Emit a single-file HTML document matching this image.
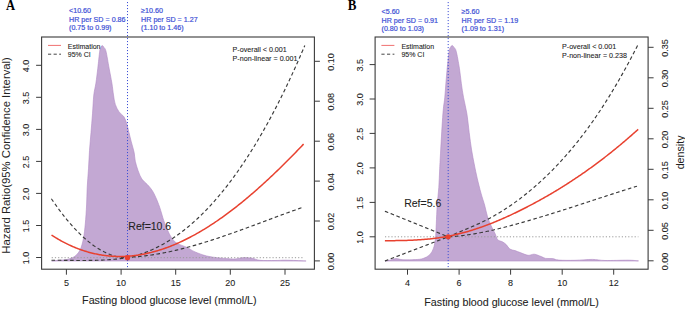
<!DOCTYPE html>
<html><head><meta charset="utf-8"><style>
html,body{margin:0;padding:0;background:#fff;width:685px;height:309px;overflow:hidden;position:relative}
</style></head><body>
<svg width="685" height="309" viewBox="0 0 685 309" style="position:absolute;left:0;top:0">
<g font-family='"Liberation Sans", sans-serif'>
<path d="M51.70,261.00 C52.67,260.90 54.97,260.65 57.50,260.40 C60.03,260.15 64.08,260.13 66.90,259.50 C69.72,258.87 72.22,258.17 74.40,256.60 C76.58,255.03 78.50,253.07 80.00,250.10 C81.50,247.13 82.52,243.18 83.40,238.80 C84.28,234.42 84.77,229.43 85.30,223.80 C85.83,218.17 86.28,211.03 86.60,205.00 C86.92,198.97 86.88,193.63 87.20,187.60 C87.52,181.57 88.12,174.98 88.50,168.80 C88.88,162.62 89.08,156.53 89.50,150.50 C89.92,144.47 90.50,138.72 91.00,132.60 C91.50,126.48 92.03,120.07 92.50,113.80 C92.97,107.53 93.23,100.10 93.80,95.00 C94.37,89.90 95.23,87.67 95.90,83.20 C96.57,78.73 97.17,73.52 97.80,68.20 C98.43,62.88 99.22,54.77 99.70,51.30 C100.18,47.83 100.27,48.35 100.70,47.40 C101.13,46.45 101.77,45.60 102.30,45.60 C102.83,45.60 103.28,46.45 103.90,47.40 C104.52,48.35 105.13,47.83 106.00,51.30 C106.87,54.77 108.12,62.88 109.10,68.20 C110.08,73.52 111.17,78.73 111.90,83.20 C112.63,87.67 112.93,91.47 113.50,95.00 C114.07,98.53 114.37,101.58 115.30,104.40 C116.23,107.22 117.68,109.87 119.10,111.90 C120.52,113.93 122.55,114.72 123.80,116.60 C125.05,118.48 125.73,120.53 126.60,123.20 C127.47,125.87 128.22,129.48 129.00,132.60 C129.78,135.72 130.45,138.62 131.30,141.90 C132.15,145.18 133.43,149.07 134.10,152.30 C134.77,155.53 134.63,158.23 135.30,161.30 C135.97,164.37 137.00,167.73 138.10,170.70 C139.20,173.67 140.33,176.77 141.90,179.10 C143.47,181.43 145.78,182.82 147.50,184.70 C149.22,186.58 150.78,188.20 152.20,190.40 C153.62,192.60 154.75,195.08 156.00,197.90 C157.25,200.72 158.40,203.50 159.70,207.30 C161.00,211.10 162.50,216.92 163.80,220.70 C165.10,224.48 166.22,227.17 167.50,230.00 C168.78,232.83 169.93,235.50 171.50,237.70 C173.07,239.90 174.33,241.58 176.90,243.20 C179.47,244.82 183.88,245.95 186.90,247.40 C189.92,248.85 191.70,250.47 195.00,251.90 C198.30,253.33 202.95,255.03 206.70,256.00 C210.45,256.97 214.23,257.27 217.50,257.70 C220.77,258.13 223.38,258.38 226.30,258.60 C229.22,258.82 232.08,259.17 235.00,259.00 C237.92,258.83 240.88,257.72 243.80,257.60 C246.72,257.48 249.80,257.85 252.50,258.30 C255.20,258.75 256.25,259.93 260.00,260.30 C263.75,260.67 270.67,260.52 275.00,260.50 C279.33,260.48 281.05,260.13 286.00,260.20 C290.95,260.27 301.58,260.77 304.70,260.90 C307.82,261.03 304.70,260.98 304.70,261.00 Z" fill="#C3A8D3" stroke="#B08AC4" stroke-width="0.6"/>
<line x1="51.7" y1="257.7" x2="304.5" y2="257.7" stroke="#9a9a9a" stroke-width="1" stroke-dasharray="1.2,2"/>
<line x1="127.5" y1="2" x2="127.5" y2="269.2" stroke="#3D4FD6" stroke-width="1" stroke-dasharray="1.1,1.9"/>
<path d="M51.40,198.72 L52.40,200.20 L53.40,201.65 L54.40,203.10 L55.41,204.52 L56.41,205.93 L57.41,207.32 L58.41,208.69 L59.41,210.05 L60.41,211.39 L61.41,212.71 L62.41,214.01 L63.42,215.30 L64.42,216.57 L65.42,217.82 L66.42,219.06 L67.42,220.27 L68.42,221.47 L69.42,222.65 L70.42,223.82 L71.43,224.96 L72.43,226.09 L73.43,227.20 L74.43,228.29 L75.43,229.36 L76.43,230.41 L77.43,231.45 L78.44,232.46 L79.44,233.46 L80.44,234.44 L81.44,235.40 L82.44,236.34 L83.44,237.26 L84.44,238.17 L85.44,239.05 L86.45,239.91 L87.45,240.76 L88.45,241.59 L89.45,242.39 L90.45,243.18 L91.45,243.94 L92.45,244.69 L93.46,245.42 L94.46,246.13 L95.46,246.81 L96.46,247.48 L97.46,248.13 L98.46,248.75 L99.46,249.36 L100.46,249.95 L101.47,250.51 L102.47,251.06 L103.47,251.58 L104.47,252.09 L105.47,252.57 L106.47,253.03 L107.47,253.47 L108.47,253.89 L109.48,254.29 L110.48,254.67 L111.48,255.03 L112.48,255.36 L113.48,255.68 L114.48,255.97 L115.48,256.24 L116.49,256.49 L117.49,256.72 L118.49,256.92 L119.49,257.10 L120.49,257.27 L121.49,257.41 L122.49,257.52 L123.49,257.62 L124.50,257.69 L125.50,257.74 L126.50,257.77 L127.50,257.77 L128.50,257.36 L129.50,257.15 L130.51,256.92 L131.51,256.69 L132.51,256.45 L133.51,256.19 L134.51,255.93 L135.51,255.66 L136.52,255.37 L137.52,255.08 L138.52,254.78 L139.52,254.46 L140.52,254.14 L141.52,253.81 L142.53,253.47 L143.53,253.11 L144.53,252.75 L145.53,252.38 L146.53,251.99 L147.53,251.60 L148.54,251.20 L149.54,250.79 L150.54,250.36 L151.54,249.93 L152.54,249.48 L153.54,249.03 L154.55,248.56 L155.55,248.09 L156.55,247.60 L157.55,247.11 L158.55,246.60 L159.55,246.09 L160.56,245.56 L161.56,245.02 L162.56,244.47 L163.56,243.91 L164.56,243.34 L165.56,242.76 L166.57,242.17 L167.57,241.57 L168.57,240.96 L169.57,240.34 L170.57,239.71 L171.57,239.06 L172.58,238.41 L173.58,237.74 L174.58,237.06 L175.58,236.38 L176.58,235.68 L177.58,234.97 L178.59,234.25 L179.59,233.52 L180.59,232.78 L181.59,232.02 L182.59,231.26 L183.59,230.49 L184.60,229.70 L185.60,228.90 L186.60,228.09 L187.60,227.27 L188.60,226.44 L189.61,225.60 L190.61,224.75 L191.61,223.88 L192.61,223.01 L193.61,222.12 L194.61,221.22 L195.62,220.31 L196.62,219.39 L197.62,218.46 L198.62,217.51 L199.62,216.56 L200.62,215.59 L201.63,214.61 L202.63,213.62 L203.63,212.62 L204.63,211.61 L205.63,210.58 L206.63,209.55 L207.64,208.50 L208.64,207.44 L209.64,206.37 L210.64,205.28 L211.64,204.19 L212.64,203.08 L213.65,201.96 L214.65,200.83 L215.65,199.69 L216.65,198.53 L217.65,197.36 L218.65,196.19 L219.66,195.00 L220.66,193.79 L221.66,192.58 L222.66,191.35 L223.66,190.11 L224.66,188.86 L225.67,187.60 L226.67,186.32 L227.67,185.03 L228.67,183.73 L229.67,182.42 L230.67,181.09 L231.68,179.76 L232.68,178.41 L233.68,177.04 L234.68,175.67 L235.68,174.28 L236.68,172.88 L237.69,171.46 L238.69,170.04 L239.69,168.60 L240.69,167.15 L241.69,165.68 L242.69,164.20 L243.70,162.71 L244.70,161.21 L245.70,159.69 L246.70,158.16 L247.70,156.62 L248.71,155.06 L249.71,153.49 L250.71,151.91 L251.71,150.31 L252.71,148.70 L253.71,147.08 L254.72,145.44 L255.72,143.79 L256.72,142.12 L257.72,140.45 L258.72,138.76 L259.72,137.05 L260.73,135.33 L261.73,133.60 L262.73,131.85 L263.73,130.10 L264.73,128.32 L265.73,126.53 L266.74,124.73 L267.74,122.92 L268.74,121.09 L269.74,119.24 L270.74,117.39 L271.74,115.51 L272.75,113.63 L273.75,111.73 L274.75,109.81 L275.75,107.89 L276.75,105.94 L277.75,103.99 L278.76,102.01 L279.76,100.03 L280.76,98.03 L281.76,96.01 L282.76,93.98 L283.76,91.94 L284.77,89.88 L285.77,87.80 L286.77,85.71 L287.77,83.61 L288.77,81.49 L289.77,79.36 L290.78,77.21 L291.78,75.05 L292.78,72.87 L293.78,70.67 L294.78,68.47 L295.78,66.24 L296.79,64.00 L297.79,61.75 L298.79,59.48 L299.79,57.20 L300.79,54.90 L301.79,52.58 L302.80,50.25 L303.80,47.90 L304.80,45.54" fill="none" stroke="#3a3a3a" stroke-width="1.15" stroke-dasharray="3.6,2.6"/>
<path d="M51.50,260.21 L52.50,260.22 L53.50,260.23 L54.50,260.23 L55.50,260.24 L56.50,260.25 L57.50,260.26 L58.50,260.27 L59.50,260.28 L60.50,260.29 L61.50,260.31 L62.50,260.32 L63.50,260.33 L64.50,260.34 L65.50,260.35 L66.50,260.37 L67.50,260.38 L68.50,260.39 L69.50,260.40 L70.50,260.41 L71.50,260.42 L72.50,260.43 L73.50,260.44 L74.50,260.45 L75.50,260.46 L76.50,260.46 L77.50,260.47 L78.50,260.47 L79.50,260.48 L80.50,260.48 L81.50,260.48 L82.50,260.48 L83.50,260.48 L84.50,260.47 L85.50,260.47 L86.50,260.46 L87.50,260.45 L88.50,260.44 L89.50,260.43 L90.50,260.42 L91.50,260.40 L92.50,260.38 L93.50,260.36 L94.50,260.34 L95.50,260.31 L96.50,260.28 L97.50,260.25 L98.50,260.22 L99.50,260.18 L100.50,260.14 L101.50,260.10 L102.50,260.06 L103.50,260.01 L104.50,259.96 L105.50,259.90 L106.50,259.85 L107.50,259.79 L108.50,259.72 L109.50,259.65 L110.50,259.58 L111.50,259.50 L112.50,259.43 L113.50,259.34 L114.50,259.26 L115.50,259.16 L116.50,259.07 L117.50,258.97 L118.50,258.86 L119.50,258.76 L120.50,258.64 L121.50,258.53 L122.50,258.40 L123.50,258.28 L124.50,258.15 L125.50,258.01 L126.50,257.87 L127.50,257.72 L128.50,257.31 L129.50,257.26 L130.50,257.20 L131.50,257.14 L132.51,257.08 L133.51,257.01 L134.51,256.93 L135.51,256.85 L136.51,256.77 L137.51,256.68 L138.51,256.59 L139.51,256.49 L140.51,256.39 L141.52,256.28 L142.52,256.17 L143.52,256.06 L144.52,255.94 L145.52,255.81 L146.52,255.69 L147.52,255.55 L148.52,255.42 L149.53,255.28 L150.53,255.14 L151.53,254.99 L152.53,254.84 L153.53,254.68 L154.53,254.52 L155.53,254.36 L156.53,254.19 L157.53,254.02 L158.54,253.85 L159.54,253.67 L160.54,253.49 L161.54,253.30 L162.54,253.11 L163.54,252.92 L164.54,252.72 L165.54,252.52 L166.54,252.32 L167.55,252.11 L168.55,251.90 L169.55,251.69 L170.55,251.47 L171.55,251.25 L172.55,251.03 L173.55,250.80 L174.55,250.57 L175.55,250.34 L176.56,250.10 L177.56,249.87 L178.56,249.62 L179.56,249.38 L180.56,249.13 L181.56,248.88 L182.56,248.63 L183.56,248.37 L184.57,248.11 L185.57,247.85 L186.57,247.58 L187.57,247.31 L188.57,247.04 L189.57,246.77 L190.57,246.50 L191.57,246.22 L192.57,245.94 L193.58,245.65 L194.58,245.37 L195.58,245.08 L196.58,244.79 L197.58,244.49 L198.58,244.20 L199.58,243.90 L200.58,243.60 L201.58,243.30 L202.59,242.99 L203.59,242.69 L204.59,242.38 L205.59,242.07 L206.59,241.75 L207.59,241.44 L208.59,241.12 L209.59,240.80 L210.59,240.48 L211.60,240.16 L212.60,239.83 L213.60,239.51 L214.60,239.18 L215.60,238.85 L216.60,238.52 L217.60,238.18 L218.60,237.85 L219.61,237.51 L220.61,237.17 L221.61,236.83 L222.61,236.49 L223.61,236.15 L224.61,235.80 L225.61,235.46 L226.61,235.11 L227.61,234.76 L228.62,234.41 L229.62,234.06 L230.62,233.71 L231.62,233.35 L232.62,233.00 L233.62,232.64 L234.62,232.29 L235.62,231.93 L236.62,231.57 L237.63,231.21 L238.63,230.85 L239.63,230.49 L240.63,230.12 L241.63,229.76 L242.63,229.40 L243.63,229.03 L244.63,228.66 L245.63,228.30 L246.64,227.93 L247.64,227.56 L248.64,227.19 L249.64,226.82 L250.64,226.46 L251.64,226.08 L252.64,225.71 L253.64,225.34 L254.65,224.97 L255.65,224.60 L256.65,224.23 L257.65,223.85 L258.65,223.48 L259.65,223.11 L260.65,222.74 L261.65,222.36 L262.65,221.99 L263.66,221.61 L264.66,221.24 L265.66,220.87 L266.66,220.49 L267.66,220.12 L268.66,219.75 L269.66,219.37 L270.66,219.00 L271.66,218.63 L272.67,218.25 L273.67,217.88 L274.67,217.51 L275.67,217.14 L276.67,216.77 L277.67,216.39 L278.67,216.02 L279.67,215.65 L280.67,215.28 L281.68,214.91 L282.68,214.55 L283.68,214.18 L284.68,213.81 L285.68,213.44 L286.68,213.08 L287.68,212.71 L288.68,212.35 L289.69,211.98 L290.69,211.62 L291.69,211.26 L292.69,210.90 L293.69,210.54 L294.69,210.18 L295.69,209.82 L296.69,209.46 L297.69,209.11 L298.70,208.75 L299.70,208.40 L300.70,208.05 L301.70,207.70 L302.70,207.35" fill="none" stroke="#3a3a3a" stroke-width="1.15" stroke-dasharray="3.6,2.6"/>
<path d="M51.50,235.06 L52.50,235.70 L53.50,236.34 L54.50,236.96 L55.50,237.57 L56.50,238.18 L57.50,238.77 L58.50,239.35 L59.50,239.92 L60.50,240.49 L61.50,241.04 L62.50,241.58 L63.50,242.11 L64.51,242.63 L65.51,243.14 L66.51,243.64 L67.51,244.13 L68.51,244.61 L69.51,245.08 L70.51,245.55 L71.51,246.00 L72.51,246.44 L73.51,246.87 L74.51,247.29 L75.51,247.70 L76.51,248.10 L77.51,248.49 L78.51,248.87 L79.51,249.24 L80.51,249.61 L81.51,249.96 L82.51,250.30 L83.51,250.63 L84.51,250.96 L85.51,251.27 L86.51,251.58 L87.51,251.87 L88.51,252.16 L89.52,252.43 L90.52,252.70 L91.52,252.96 L92.52,253.20 L93.52,253.44 L94.52,253.67 L95.52,253.89 L96.52,254.10 L97.52,254.30 L98.52,254.50 L99.52,254.68 L100.52,254.85 L101.52,255.02 L102.52,255.17 L103.52,255.32 L104.52,255.46 L105.52,255.59 L106.52,255.71 L107.52,255.82 L108.52,255.92 L109.52,256.01 L110.52,256.10 L111.52,256.18 L112.52,256.24 L113.52,256.30 L114.53,256.35 L115.53,256.39 L116.53,256.42 L117.53,256.45 L118.53,256.46 L119.53,256.47 L120.53,256.47 L121.53,256.46 L122.53,256.44 L123.53,256.41 L124.53,256.38 L125.53,256.33 L126.53,256.28 L127.53,256.22 L128.53,256.15 L129.53,256.07 L130.53,255.99 L131.53,255.90 L132.53,255.79 L133.53,255.68 L134.53,255.57 L135.53,255.44 L136.53,255.31 L137.53,255.17 L138.53,255.02 L139.53,254.86 L140.54,254.69 L141.54,254.52 L142.54,254.34 L143.54,254.15 L144.54,253.95 L145.54,253.75 L146.54,253.53 L147.54,253.31 L148.54,253.09 L149.54,252.85 L150.54,252.61 L151.54,252.36 L152.54,252.10 L153.54,251.83 L154.54,251.56 L155.54,251.28 L156.54,250.99 L157.54,250.70 L158.54,250.39 L159.54,250.08 L160.54,249.76 L161.54,249.44 L162.54,249.11 L163.54,248.77 L164.54,248.42 L165.55,248.07 L166.55,247.71 L167.55,247.34 L168.55,246.97 L169.55,246.58 L170.55,246.19 L171.55,245.80 L172.55,245.40 L173.55,244.99 L174.55,244.57 L175.55,244.15 L176.55,243.72 L177.55,243.28 L178.55,242.83 L179.55,242.38 L180.55,241.93 L181.55,241.46 L182.55,240.99 L183.55,240.51 L184.55,240.03 L185.55,239.54 L186.55,239.04 L187.55,238.54 L188.55,238.03 L189.55,237.51 L190.56,236.99 L191.56,236.46 L192.56,235.93 L193.56,235.38 L194.56,234.84 L195.56,234.28 L196.56,233.72 L197.56,233.15 L198.56,232.58 L199.56,232.00 L200.56,231.42 L201.56,230.83 L202.56,230.23 L203.56,229.63 L204.56,229.02 L205.56,228.40 L206.56,227.78 L207.56,227.15 L208.56,226.52 L209.56,225.88 L210.56,225.24 L211.56,224.59 L212.56,223.93 L213.56,223.27 L214.56,222.60 L215.57,221.93 L216.57,221.25 L217.57,220.56 L218.57,219.87 L219.57,219.18 L220.57,218.48 L221.57,217.77 L222.57,217.06 L223.57,216.34 L224.57,215.62 L225.57,214.89 L226.57,214.16 L227.57,213.42 L228.57,212.68 L229.57,211.93 L230.57,211.17 L231.57,210.41 L232.57,209.65 L233.57,208.88 L234.57,208.10 L235.57,207.32 L236.57,206.54 L237.57,205.75 L238.57,204.95 L239.57,204.15 L240.57,203.35 L241.58,202.54 L242.58,201.72 L243.58,200.90 L244.58,200.08 L245.58,199.25 L246.58,198.42 L247.58,197.58 L248.58,196.74 L249.58,195.89 L250.58,195.04 L251.58,194.18 L252.58,193.32 L253.58,192.45 L254.58,191.58 L255.58,190.71 L256.58,189.83 L257.58,188.95 L258.58,188.06 L259.58,187.16 L260.58,186.27 L261.58,185.37 L262.58,184.46 L263.58,183.55 L264.58,182.64 L265.58,181.72 L266.59,180.80 L267.59,179.87 L268.59,178.94 L269.59,178.01 L270.59,177.07 L271.59,176.13 L272.59,175.18 L273.59,174.23 L274.59,173.28 L275.59,172.32 L276.59,171.36 L277.59,170.40 L278.59,169.43 L279.59,168.45 L280.59,167.48 L281.59,166.50 L282.59,165.51 L283.59,164.53 L284.59,163.54 L285.59,162.54 L286.59,161.54 L287.59,160.54 L288.59,159.54 L289.59,158.53 L290.59,157.52 L291.60,156.50 L292.60,155.48 L293.60,154.46 L294.60,153.44 L295.60,152.41 L296.60,151.38 L297.60,150.34 L298.60,149.30 L299.60,148.26 L300.60,147.22 L301.60,146.17 L302.60,145.12 L303.60,144.07" fill="none" stroke="#E8412F" stroke-width="1.5"/>
<circle cx="127.5" cy="257.7" r="2.6" fill="#E8412F"/>
<rect x="41.6" y="37" width="272.79999999999995" height="232.2" fill="none" stroke="#3a3a3a" stroke-width="1.1"/>
<line x1="66.4" y1="269.2" x2="66.4" y2="274.7" stroke="#3a3a3a" stroke-width="1"/>
<text x="66.4" y="285.7" font-size="9" text-anchor="middle" fill="#222222" stroke="#222222" stroke-width="0.08">5</text>
<line x1="121.1" y1="269.2" x2="121.1" y2="274.7" stroke="#3a3a3a" stroke-width="1"/>
<text x="121.1" y="285.7" font-size="9" text-anchor="middle" fill="#222222" stroke="#222222" stroke-width="0.08">10</text>
<line x1="175.7" y1="269.2" x2="175.7" y2="274.7" stroke="#3a3a3a" stroke-width="1"/>
<text x="175.7" y="285.7" font-size="9" text-anchor="middle" fill="#222222" stroke="#222222" stroke-width="0.08">15</text>
<line x1="230.3" y1="269.2" x2="230.3" y2="274.7" stroke="#3a3a3a" stroke-width="1"/>
<text x="230.3" y="285.7" font-size="9" text-anchor="middle" fill="#222222" stroke="#222222" stroke-width="0.08">20</text>
<line x1="285" y1="269.2" x2="285" y2="274.7" stroke="#3a3a3a" stroke-width="1"/>
<text x="285" y="285.7" font-size="9" text-anchor="middle" fill="#222222" stroke="#222222" stroke-width="0.08">25</text>
<line x1="36.1" y1="257.5" x2="41.6" y2="257.5" stroke="#3a3a3a" stroke-width="1"/>
<text x="0" y="0" transform="translate(28.9,258.1) rotate(-90)" font-size="9" text-anchor="middle" fill="#222222" stroke="#222222" stroke-width="0.08">1.0</text>
<line x1="36.1" y1="225.5" x2="41.6" y2="225.5" stroke="#3a3a3a" stroke-width="1"/>
<text x="0" y="0" transform="translate(28.9,226.1) rotate(-90)" font-size="9" text-anchor="middle" fill="#222222" stroke="#222222" stroke-width="0.08">1.5</text>
<line x1="36.1" y1="193.4" x2="41.6" y2="193.4" stroke="#3a3a3a" stroke-width="1"/>
<text x="0" y="0" transform="translate(28.9,194.0) rotate(-90)" font-size="9" text-anchor="middle" fill="#222222" stroke="#222222" stroke-width="0.08">2.0</text>
<line x1="36.1" y1="161.4" x2="41.6" y2="161.4" stroke="#3a3a3a" stroke-width="1"/>
<text x="0" y="0" transform="translate(28.9,162.0) rotate(-90)" font-size="9" text-anchor="middle" fill="#222222" stroke="#222222" stroke-width="0.08">2.5</text>
<line x1="36.1" y1="129.4" x2="41.6" y2="129.4" stroke="#3a3a3a" stroke-width="1"/>
<text x="0" y="0" transform="translate(28.9,130.0) rotate(-90)" font-size="9" text-anchor="middle" fill="#222222" stroke="#222222" stroke-width="0.08">3.0</text>
<line x1="36.1" y1="97.3" x2="41.6" y2="97.3" stroke="#3a3a3a" stroke-width="1"/>
<text x="0" y="0" transform="translate(28.9,97.89999999999999) rotate(-90)" font-size="9" text-anchor="middle" fill="#222222" stroke="#222222" stroke-width="0.08">3.5</text>
<line x1="36.1" y1="65.3" x2="41.6" y2="65.3" stroke="#3a3a3a" stroke-width="1"/>
<text x="0" y="0" transform="translate(28.9,65.89999999999999) rotate(-90)" font-size="9" text-anchor="middle" fill="#222222" stroke="#222222" stroke-width="0.08">4.0</text>
<line x1="314.4" y1="260.9" x2="319.9" y2="260.9" stroke="#3a3a3a" stroke-width="1"/>
<text x="0" y="0" transform="translate(334.4,261.5) rotate(-90)" font-size="9" text-anchor="middle" fill="#222222" stroke="#222222" stroke-width="0.08">0.00</text>
<line x1="314.4" y1="221.0" x2="319.9" y2="221.0" stroke="#3a3a3a" stroke-width="1"/>
<text x="0" y="0" transform="translate(334.4,221.6) rotate(-90)" font-size="9" text-anchor="middle" fill="#222222" stroke="#222222" stroke-width="0.08">0.02</text>
<line x1="314.4" y1="181.1" x2="319.9" y2="181.1" stroke="#3a3a3a" stroke-width="1"/>
<text x="0" y="0" transform="translate(334.4,181.7) rotate(-90)" font-size="9" text-anchor="middle" fill="#222222" stroke="#222222" stroke-width="0.08">0.04</text>
<line x1="314.4" y1="141.2" x2="319.9" y2="141.2" stroke="#3a3a3a" stroke-width="1"/>
<text x="0" y="0" transform="translate(334.4,141.79999999999998) rotate(-90)" font-size="9" text-anchor="middle" fill="#222222" stroke="#222222" stroke-width="0.08">0.06</text>
<line x1="314.4" y1="101.2" x2="319.9" y2="101.2" stroke="#3a3a3a" stroke-width="1"/>
<text x="0" y="0" transform="translate(334.4,101.8) rotate(-90)" font-size="9" text-anchor="middle" fill="#222222" stroke="#222222" stroke-width="0.08">0.08</text>
<line x1="314.4" y1="61.3" x2="319.9" y2="61.3" stroke="#3a3a3a" stroke-width="1"/>
<text x="0" y="0" transform="translate(334.4,61.9) rotate(-90)" font-size="9" text-anchor="middle" fill="#222222" stroke="#222222" stroke-width="0.08">0.10</text>
<line x1="48" y1="45.4" x2="61" y2="45.4" stroke="#F07070" stroke-width="1"/>
<line x1="48" y1="54.2" x2="61" y2="54.2" stroke="#444" stroke-width="1" stroke-dasharray="3.2,2.4"/>
<text x="67.8" y="48.9" font-size="7" fill="#222222" stroke="#222222" stroke-width="0.08">Estimation</text>
<text x="67.8" y="56.9" font-size="7" fill="#222222" stroke="#222222" stroke-width="0.08">95% CI</text>
<text x="232.6" y="52.2" font-size="7.15" fill="#222222" stroke="#222222" stroke-width="0.08">P-overall &lt; 0.001</text>
<text x="232.6" y="60.7" font-size="7.15" fill="#222222" stroke="#222222" stroke-width="0.08">P-non-linear = 0.001</text>
<text x="69" y="13.0" font-size="7.15" fill="#3D4FD6" stroke="#3D4FD6" stroke-width="0.2">&lt;10.60</text>
<text x="69" y="21.6" font-size="7.15" fill="#3D4FD6" stroke="#3D4FD6" stroke-width="0.2">HR per SD = 0.86</text>
<text x="69" y="30.2" font-size="7.15" fill="#3D4FD6" stroke="#3D4FD6" stroke-width="0.2">(0.75 to 0.99)</text>
<text x="141.1" y="13.0" font-size="7.15" fill="#3D4FD6" stroke="#3D4FD6" stroke-width="0.2">≥10.60</text>
<text x="141.1" y="21.6" font-size="7.15" fill="#3D4FD6" stroke="#3D4FD6" stroke-width="0.2">HR per SD = 1.27</text>
<text x="141.1" y="30.2" font-size="7.15" fill="#3D4FD6" stroke="#3D4FD6" stroke-width="0.2">(1.10 to 1.46)</text>
<text x="128.3" y="229.7" font-size="10.5" fill="#222222" stroke="#222222" stroke-width="0.08">Ref=10.6</text>
<text x="82.1" y="304.3" font-size="10.73" fill="#222222" stroke="#222222" stroke-width="0.08">Fasting blood glucose level (mmol/L)</text>
<path d="M385.00,261.00 C385.83,260.87 388.17,260.60 390.00,260.20 C391.83,259.80 393.83,258.67 396.00,258.60 C398.17,258.53 399.73,259.63 403.00,259.80 C406.27,259.97 412.25,259.82 415.60,259.60 C418.95,259.38 420.75,259.30 423.10,258.50 C425.45,257.70 427.97,256.52 429.70,254.80 C431.43,253.08 432.55,250.87 433.50,248.20 C434.45,245.53 434.93,242.87 435.40,238.80 C435.87,234.73 436.00,229.43 436.30,223.80 C436.60,218.17 436.78,211.03 437.20,205.00 C437.62,198.97 438.38,193.63 438.80,187.60 C439.22,181.57 439.38,175.07 439.70,168.80 C440.02,162.53 440.17,159.17 440.70,150.00 C441.23,140.83 442.22,122.58 442.90,113.80 C443.58,105.02 444.30,102.40 444.80,97.30 C445.30,92.20 445.50,88.05 445.90,83.20 C446.30,78.35 446.67,73.52 447.20,68.20 C447.73,62.88 448.57,54.77 449.10,51.30 C449.63,47.83 449.88,48.37 450.40,47.40 C450.92,46.43 451.60,45.50 452.20,45.50 C452.80,45.50 453.33,46.43 454.00,47.40 C454.67,48.37 455.30,47.83 456.20,51.30 C457.10,54.77 458.55,62.88 459.40,68.20 C460.25,73.52 460.62,78.35 461.30,83.20 C461.98,88.05 462.57,92.20 463.50,97.30 C464.43,102.40 465.95,107.92 466.90,113.80 C467.85,119.68 468.42,126.57 469.20,132.60 C469.98,138.63 470.73,144.60 471.60,150.00 C472.47,155.40 473.47,160.30 474.40,165.00 C475.33,169.70 476.10,173.50 477.20,178.20 C478.30,182.90 479.77,188.73 481.00,193.20 C482.23,197.67 483.53,201.15 484.60,205.00 C485.67,208.85 486.32,212.85 487.40,216.30 C488.48,219.75 489.85,222.88 491.10,225.70 C492.35,228.52 493.80,230.87 494.90,233.20 C496.00,235.53 496.45,238.27 497.70,239.70 C498.95,241.13 500.98,240.98 502.40,241.80 C503.82,242.62 504.95,243.38 506.20,244.60 C507.45,245.82 508.43,248.10 509.90,249.10 C511.37,250.10 513.27,250.02 515.00,250.60 C516.73,251.18 518.12,251.82 520.30,252.60 C522.48,253.38 525.77,255.03 528.10,255.30 C530.43,255.57 532.10,253.98 534.30,254.20 C536.50,254.42 539.42,255.90 541.30,256.60 C543.18,257.30 543.70,258.07 545.60,258.40 C547.50,258.73 550.50,258.32 552.70,258.60 C554.90,258.88 555.08,259.82 558.80,260.10 C562.52,260.38 569.40,260.42 575.00,260.30 C580.60,260.18 587.40,259.37 592.40,259.40 C597.40,259.43 599.07,260.37 605.00,260.50 C610.93,260.63 622.53,260.15 628.00,260.20 C633.47,260.25 636.17,260.67 637.80,260.80 C639.43,260.93 637.80,260.97 637.80,261.00 Z" fill="#C3A8D3" stroke="#B08AC4" stroke-width="0.6"/>
<line x1="385" y1="236.8" x2="638.4" y2="236.8" stroke="#9a9a9a" stroke-width="1" stroke-dasharray="1.2,2"/>
<line x1="448.2" y1="2" x2="448.2" y2="269.2" stroke="#3D4FD6" stroke-width="1" stroke-dasharray="1.1,1.9"/>
<path d="M384.90,211.20 L385.90,211.61 L386.91,212.01 L387.91,212.42 L388.92,212.83 L389.92,213.23 L390.93,213.64 L391.93,214.04 L392.94,214.45 L393.94,214.86 L394.95,215.26 L395.95,215.67 L396.96,216.08 L397.96,216.48 L398.97,216.89 L399.97,217.30 L400.98,217.70 L401.98,218.11 L402.99,218.51 L403.99,218.92 L405.00,219.33 L406.00,219.73 L407.00,220.14 L408.01,220.55 L409.01,220.95 L410.02,221.36 L411.02,221.77 L412.03,222.17 L413.03,222.58 L414.04,222.98 L415.04,223.39 L416.05,223.80 L417.05,224.20 L418.06,224.61 L419.06,225.02 L420.07,225.42 L421.07,225.83 L422.08,226.23 L423.08,226.64 L424.09,227.05 L425.09,227.45 L426.10,227.86 L427.10,228.27 L428.10,228.67 L429.11,229.08 L430.11,229.49 L431.12,229.89 L432.12,230.30 L433.13,230.70 L434.13,231.11 L435.14,231.52 L436.14,231.92 L437.15,232.33 L438.15,232.74 L439.16,233.14 L440.16,233.55 L441.17,233.96 L442.17,234.36 L443.18,234.77 L444.18,235.17 L445.19,235.58 L446.19,235.99 L447.20,236.39 L448.20,236.80 L449.20,236.35 L450.20,235.91 L451.21,235.48 L452.21,235.04 L453.21,234.61 L454.21,234.18 L455.21,233.76 L456.22,233.33 L457.22,232.91 L458.22,232.49 L459.22,232.07 L460.23,231.65 L461.23,231.23 L462.23,230.81 L463.23,230.39 L464.23,229.97 L465.24,229.54 L466.24,229.12 L467.24,228.70 L468.24,228.27 L469.24,227.85 L470.25,227.42 L471.25,226.98 L472.25,226.55 L473.25,226.11 L474.26,225.67 L475.26,225.22 L476.26,224.77 L477.26,224.32 L478.26,223.86 L479.27,223.40 L480.27,222.93 L481.27,222.46 L482.27,221.98 L483.27,221.49 L484.28,221.00 L485.28,220.50 L486.28,219.99 L487.28,219.48 L488.28,218.96 L489.29,218.43 L490.29,217.90 L491.29,217.35 L492.29,216.80 L493.30,216.25 L494.30,215.68 L495.30,215.11 L496.30,214.53 L497.30,213.95 L498.31,213.35 L499.31,212.75 L500.31,212.15 L501.31,211.53 L502.31,210.91 L503.32,210.28 L504.32,209.64 L505.32,209.00 L506.32,208.34 L507.32,207.68 L508.33,207.02 L509.33,206.34 L510.33,205.66 L511.33,204.97 L512.34,204.27 L513.34,203.57 L514.34,202.86 L515.34,202.14 L516.34,201.41 L517.35,200.67 L518.35,199.93 L519.35,199.18 L520.35,198.42 L521.35,197.66 L522.36,196.89 L523.36,196.11 L524.36,195.32 L525.36,194.52 L526.37,193.72 L527.37,192.91 L528.37,192.09 L529.37,191.26 L530.37,190.43 L531.38,189.58 L532.38,188.73 L533.38,187.88 L534.38,187.01 L535.38,186.14 L536.39,185.26 L537.39,184.37 L538.39,183.47 L539.39,182.57 L540.39,181.66 L541.40,180.73 L542.40,179.81 L543.40,178.87 L544.40,177.93 L545.41,176.97 L546.41,176.01 L547.41,175.05 L548.41,174.07 L549.41,173.08 L550.42,172.09 L551.42,171.09 L552.42,170.08 L553.42,169.06 L554.42,168.03 L555.43,166.99 L556.43,165.94 L557.43,164.89 L558.43,163.83 L559.43,162.75 L560.44,161.67 L561.44,160.58 L562.44,159.48 L563.44,158.37 L564.45,157.25 L565.45,156.12 L566.45,154.98 L567.45,153.83 L568.45,152.67 L569.46,151.50 L570.46,150.32 L571.46,149.14 L572.46,147.94 L573.46,146.73 L574.47,145.51 L575.47,144.28 L576.47,143.04 L577.47,141.79 L578.48,140.53 L579.48,139.26 L580.48,137.98 L581.48,136.68 L582.48,135.38 L583.49,134.07 L584.49,132.74 L585.49,131.41 L586.49,130.06 L587.49,128.70 L588.50,127.33 L589.50,125.95 L590.50,124.56 L591.50,123.15 L592.50,121.74 L593.51,120.31 L594.51,118.87 L595.51,117.42 L596.51,115.96 L597.52,114.48 L598.52,113.00 L599.52,111.50 L600.52,109.99 L601.52,108.47 L602.53,106.93 L603.53,105.38 L604.53,103.83 L605.53,102.25 L606.53,100.67 L607.54,99.07 L608.54,97.46 L609.54,95.84 L610.54,94.20 L611.54,92.56 L612.55,90.89 L613.55,89.22 L614.55,87.54 L615.55,85.84 L616.56,84.13 L617.56,82.41 L618.56,80.67 L619.56,78.92 L620.56,77.17 L621.57,75.39 L622.57,73.61 L623.57,71.82 L624.57,70.01 L625.57,68.19 L626.58,66.36 L627.58,64.52 L628.58,62.66 L629.58,60.79 L630.59,58.92 L631.59,57.03 L632.59,55.13 L633.59,53.21 L634.59,51.29 L635.60,49.35 L636.60,47.40 L637.60,45.45" fill="none" stroke="#3a3a3a" stroke-width="1.15" stroke-dasharray="3.6,2.6"/>
<path d="M384.90,261.00 L385.90,260.62 L386.91,260.23 L387.91,259.85 L388.92,259.46 L389.92,259.08 L390.93,258.70 L391.93,258.31 L392.94,257.93 L393.94,257.54 L394.95,257.16 L395.95,256.77 L396.96,256.39 L397.96,256.01 L398.97,255.62 L399.97,255.24 L400.98,254.85 L401.98,254.47 L402.99,254.09 L403.99,253.70 L405.00,253.32 L406.00,252.93 L407.00,252.55 L408.01,252.17 L409.01,251.78 L410.02,251.40 L411.02,251.01 L412.03,250.63 L413.03,250.24 L414.04,249.86 L415.04,249.48 L416.05,249.09 L417.05,248.71 L418.06,248.32 L419.06,247.94 L420.07,247.56 L421.07,247.17 L422.08,246.79 L423.08,246.40 L424.09,246.02 L425.09,245.63 L426.10,245.25 L427.10,244.87 L428.10,244.48 L429.11,244.10 L430.11,243.71 L431.12,243.33 L432.12,242.95 L433.13,242.56 L434.13,242.18 L435.14,241.79 L436.14,241.41 L437.15,241.03 L438.15,240.64 L439.16,240.26 L440.16,239.87 L441.17,239.49 L442.17,239.10 L443.18,238.72 L444.18,238.34 L445.19,237.95 L446.19,237.57 L447.20,237.18 L448.20,236.80 L449.20,236.81 L450.21,236.75 L451.21,236.68 L452.22,236.61 L453.22,236.53 L454.23,236.44 L455.23,236.36 L456.23,236.26 L457.24,236.16 L458.24,236.06 L459.25,235.95 L460.25,235.84 L461.26,235.73 L462.26,235.61 L463.26,235.48 L464.27,235.35 L465.27,235.22 L466.28,235.08 L467.28,234.94 L468.29,234.79 L469.29,234.64 L470.29,234.49 L471.30,234.33 L472.30,234.17 L473.31,234.00 L474.31,233.83 L475.31,233.66 L476.32,233.48 L477.32,233.30 L478.33,233.12 L479.33,232.93 L480.34,232.74 L481.34,232.55 L482.34,232.35 L483.35,232.15 L484.35,231.94 L485.36,231.74 L486.36,231.53 L487.37,231.31 L488.37,231.10 L489.37,230.88 L490.38,230.65 L491.38,230.43 L492.39,230.20 L493.39,229.97 L494.40,229.74 L495.40,229.50 L496.40,229.27 L497.41,229.03 L498.41,228.78 L499.42,228.54 L500.42,228.29 L501.43,228.04 L502.43,227.79 L503.43,227.53 L504.44,227.28 L505.44,227.02 L506.45,226.76 L507.45,226.50 L508.46,226.23 L509.46,225.97 L510.46,225.70 L511.47,225.43 L512.47,225.16 L513.48,224.89 L514.48,224.62 L515.49,224.34 L516.49,224.07 L517.49,223.79 L518.50,223.51 L519.50,223.23 L520.51,222.95 L521.51,222.66 L522.51,222.38 L523.52,222.09 L524.52,221.81 L525.53,221.52 L526.53,221.23 L527.54,220.94 L528.54,220.65 L529.54,220.35 L530.55,220.06 L531.55,219.77 L532.56,219.47 L533.56,219.17 L534.57,218.87 L535.57,218.57 L536.57,218.27 L537.58,217.97 L538.58,217.67 L539.59,217.37 L540.59,217.06 L541.60,216.76 L542.60,216.45 L543.60,216.14 L544.61,215.83 L545.61,215.53 L546.62,215.22 L547.62,214.90 L548.63,214.59 L549.63,214.28 L550.63,213.97 L551.64,213.65 L552.64,213.34 L553.65,213.03 L554.65,212.71 L555.66,212.39 L556.66,212.08 L557.66,211.76 L558.67,211.44 L559.67,211.12 L560.68,210.80 L561.68,210.48 L562.69,210.16 L563.69,209.84 L564.69,209.52 L565.70,209.19 L566.70,208.87 L567.71,208.55 L568.71,208.22 L569.71,207.90 L570.72,207.58 L571.72,207.25 L572.73,206.93 L573.73,206.60 L574.74,206.27 L575.74,205.95 L576.74,205.62 L577.75,205.29 L578.75,204.97 L579.76,204.64 L580.76,204.31 L581.77,203.98 L582.77,203.66 L583.77,203.33 L584.78,203.00 L585.78,202.67 L586.79,202.34 L587.79,202.01 L588.80,201.69 L589.80,201.36 L590.80,201.03 L591.81,200.70 L592.81,200.37 L593.82,200.04 L594.82,199.71 L595.83,199.39 L596.83,199.06 L597.83,198.73 L598.84,198.40 L599.84,198.07 L600.85,197.74 L601.85,197.42 L602.86,197.09 L603.86,196.76 L604.86,196.43 L605.87,196.11 L606.87,195.78 L607.88,195.45 L608.88,195.13 L609.89,194.80 L610.89,194.48 L611.89,194.15 L612.90,193.83 L613.90,193.50 L614.91,193.18 L615.91,192.85 L616.91,192.53 L617.92,192.21 L618.92,191.89 L619.93,191.56 L620.93,191.24 L621.94,190.92 L622.94,190.60 L623.94,190.28 L624.95,189.96 L625.95,189.65 L626.96,189.33 L627.96,189.01 L628.97,188.70 L629.97,188.38 L630.97,188.06 L631.98,187.75 L632.98,187.44 L633.99,187.12 L634.99,186.81 L636.00,186.50 L637.00,186.19" fill="none" stroke="#3a3a3a" stroke-width="1.15" stroke-dasharray="3.6,2.6"/>
<path d="M384.90,240.70 L385.90,240.70 L386.90,240.69 L387.90,240.69 L388.90,240.68 L389.91,240.67 L390.91,240.67 L391.91,240.66 L392.91,240.65 L393.91,240.64 L394.91,240.63 L395.91,240.62 L396.91,240.60 L397.92,240.59 L398.92,240.57 L399.92,240.56 L400.92,240.54 L401.92,240.51 L402.92,240.49 L403.92,240.47 L404.92,240.44 L405.92,240.41 L406.93,240.38 L407.93,240.35 L408.93,240.31 L409.93,240.27 L410.93,240.23 L411.93,240.19 L412.93,240.14 L413.93,240.09 L414.94,240.04 L415.94,239.99 L416.94,239.93 L417.94,239.87 L418.94,239.81 L419.94,239.74 L420.94,239.67 L421.94,239.60 L422.95,239.52 L423.95,239.44 L424.95,239.36 L425.95,239.27 L426.95,239.18 L427.95,239.08 L428.95,238.98 L429.95,238.88 L430.95,238.77 L431.96,238.66 L432.96,238.55 L433.96,238.43 L434.96,238.31 L435.96,238.18 L436.96,238.04 L437.96,237.91 L438.96,237.76 L439.97,237.62 L440.97,237.47 L441.97,237.31 L442.97,237.15 L443.97,236.98 L444.97,236.81 L445.97,236.63 L446.97,236.45 L447.97,236.26 L448.98,236.07 L449.98,235.87 L450.98,235.67 L451.98,235.46 L452.98,235.24 L453.98,235.02 L454.98,234.80 L455.98,234.57 L456.99,234.33 L457.99,234.09 L458.99,233.85 L459.99,233.59 L460.99,233.34 L461.99,233.08 L462.99,232.81 L463.99,232.54 L464.99,232.26 L466.00,231.98 L467.00,231.70 L468.00,231.41 L469.00,231.11 L470.00,230.81 L471.00,230.51 L472.00,230.20 L473.00,229.88 L474.01,229.56 L475.01,229.24 L476.01,228.91 L477.01,228.58 L478.01,228.24 L479.01,227.90 L480.01,227.56 L481.01,227.21 L482.02,226.85 L483.02,226.49 L484.02,226.13 L485.02,225.76 L486.02,225.39 L487.02,225.02 L488.02,224.64 L489.02,224.25 L490.02,223.86 L491.03,223.47 L492.03,223.08 L493.03,222.68 L494.03,222.27 L495.03,221.87 L496.03,221.45 L497.03,221.04 L498.03,220.62 L499.04,220.20 L500.04,219.77 L501.04,219.34 L502.04,218.90 L503.04,218.47 L504.04,218.03 L505.04,217.58 L506.04,217.13 L507.04,216.68 L508.05,216.23 L509.05,215.77 L510.05,215.31 L511.05,214.84 L512.05,214.37 L513.05,213.90 L514.05,213.42 L515.05,212.95 L516.06,212.46 L517.06,211.98 L518.06,211.49 L519.06,211.00 L520.06,210.51 L521.06,210.01 L522.06,209.51 L523.06,209.01 L524.06,208.50 L525.07,207.99 L526.07,207.48 L527.07,206.97 L528.07,206.45 L529.07,205.93 L530.07,205.41 L531.07,204.88 L532.07,204.35 L533.08,203.82 L534.08,203.28 L535.08,202.75 L536.08,202.21 L537.08,201.66 L538.08,201.12 L539.08,200.57 L540.08,200.01 L541.08,199.46 L542.09,198.90 L543.09,198.33 L544.09,197.77 L545.09,197.20 L546.09,196.63 L547.09,196.05 L548.09,195.48 L549.09,194.90 L550.10,194.31 L551.10,193.73 L552.10,193.13 L553.10,192.54 L554.10,191.94 L555.10,191.34 L556.10,190.74 L557.10,190.14 L558.11,189.53 L559.11,188.91 L560.11,188.30 L561.11,187.68 L562.11,187.05 L563.11,186.43 L564.11,185.80 L565.11,185.17 L566.11,184.53 L567.12,183.89 L568.12,183.25 L569.12,182.60 L570.12,181.95 L571.12,181.30 L572.12,180.65 L573.12,179.99 L574.12,179.32 L575.13,178.66 L576.13,177.99 L577.13,177.31 L578.13,176.64 L579.13,175.96 L580.13,175.27 L581.13,174.59 L582.13,173.90 L583.13,173.20 L584.14,172.51 L585.14,171.80 L586.14,171.10 L587.14,170.39 L588.14,169.68 L589.14,168.97 L590.14,168.25 L591.14,167.52 L592.15,166.80 L593.15,166.07 L594.15,165.34 L595.15,164.60 L596.15,163.86 L597.15,163.11 L598.15,162.37 L599.15,161.61 L600.15,160.86 L601.16,160.10 L602.16,159.34 L603.16,158.57 L604.16,157.80 L605.16,157.03 L606.16,156.25 L607.16,155.47 L608.16,154.68 L609.17,153.89 L610.17,153.10 L611.17,152.30 L612.17,151.50 L613.17,150.70 L614.17,149.89 L615.17,149.08 L616.17,148.26 L617.18,147.44 L618.18,146.62 L619.18,145.79 L620.18,144.96 L621.18,144.13 L622.18,143.29 L623.18,142.44 L624.18,141.60 L625.18,140.75 L626.19,139.89 L627.19,139.03 L628.19,138.17 L629.19,137.30 L630.19,136.43 L631.19,135.56 L632.19,134.68 L633.19,133.79 L634.20,132.91 L635.20,132.02 L636.20,131.12 L637.20,130.22 L638.20,129.32" fill="none" stroke="#E8412F" stroke-width="1.5"/>
<circle cx="448.2" cy="236.8" r="2.6" fill="#E8412F"/>
<rect x="375.1" y="37" width="273.0" height="232.2" fill="none" stroke="#3a3a3a" stroke-width="1.1"/>
<line x1="407.5" y1="269.2" x2="407.5" y2="274.7" stroke="#3a3a3a" stroke-width="1"/>
<text x="407.5" y="285.7" font-size="9" text-anchor="middle" fill="#222222" stroke="#222222" stroke-width="0.08">4</text>
<line x1="459.1" y1="269.2" x2="459.1" y2="274.7" stroke="#3a3a3a" stroke-width="1"/>
<text x="459.1" y="285.7" font-size="9" text-anchor="middle" fill="#222222" stroke="#222222" stroke-width="0.08">6</text>
<line x1="510.6" y1="269.2" x2="510.6" y2="274.7" stroke="#3a3a3a" stroke-width="1"/>
<text x="510.6" y="285.7" font-size="9" text-anchor="middle" fill="#222222" stroke="#222222" stroke-width="0.08">8</text>
<line x1="562.2" y1="269.2" x2="562.2" y2="274.7" stroke="#3a3a3a" stroke-width="1"/>
<text x="562.2" y="285.7" font-size="9" text-anchor="middle" fill="#222222" stroke="#222222" stroke-width="0.08">10</text>
<line x1="613.7" y1="269.2" x2="613.7" y2="274.7" stroke="#3a3a3a" stroke-width="1"/>
<text x="613.7" y="285.7" font-size="9" text-anchor="middle" fill="#222222" stroke="#222222" stroke-width="0.08">12</text>
<line x1="369.6" y1="236.8" x2="375.1" y2="236.8" stroke="#3a3a3a" stroke-width="1"/>
<text x="0" y="0" transform="translate(362.59999999999997,237.4) rotate(-90)" font-size="9" text-anchor="middle" fill="#222222" stroke="#222222" stroke-width="0.08">1.0</text>
<line x1="369.6" y1="202.4" x2="375.1" y2="202.4" stroke="#3a3a3a" stroke-width="1"/>
<text x="0" y="0" transform="translate(362.59999999999997,203.0) rotate(-90)" font-size="9" text-anchor="middle" fill="#222222" stroke="#222222" stroke-width="0.08">1.5</text>
<line x1="369.6" y1="167.9" x2="375.1" y2="167.9" stroke="#3a3a3a" stroke-width="1"/>
<text x="0" y="0" transform="translate(362.59999999999997,168.5) rotate(-90)" font-size="9" text-anchor="middle" fill="#222222" stroke="#222222" stroke-width="0.08">2.0</text>
<line x1="369.6" y1="133.4" x2="375.1" y2="133.4" stroke="#3a3a3a" stroke-width="1"/>
<text x="0" y="0" transform="translate(362.59999999999997,134.0) rotate(-90)" font-size="9" text-anchor="middle" fill="#222222" stroke="#222222" stroke-width="0.08">2.5</text>
<line x1="369.6" y1="99.0" x2="375.1" y2="99.0" stroke="#3a3a3a" stroke-width="1"/>
<text x="0" y="0" transform="translate(362.59999999999997,99.6) rotate(-90)" font-size="9" text-anchor="middle" fill="#222222" stroke="#222222" stroke-width="0.08">3.0</text>
<line x1="369.6" y1="64.6" x2="375.1" y2="64.6" stroke="#3a3a3a" stroke-width="1"/>
<text x="0" y="0" transform="translate(362.59999999999997,65.19999999999999) rotate(-90)" font-size="9" text-anchor="middle" fill="#222222" stroke="#222222" stroke-width="0.08">3.5</text>
<line x1="648.1" y1="260.8" x2="653.6" y2="260.8" stroke="#3a3a3a" stroke-width="1"/>
<text x="0" y="0" transform="translate(668.2,261.40000000000003) rotate(-90)" font-size="9" text-anchor="middle" fill="#222222" stroke="#222222" stroke-width="0.08">0.00</text>
<line x1="648.1" y1="230.3" x2="653.6" y2="230.3" stroke="#3a3a3a" stroke-width="1"/>
<text x="0" y="0" transform="translate(668.2,230.9) rotate(-90)" font-size="9" text-anchor="middle" fill="#222222" stroke="#222222" stroke-width="0.08">0.05</text>
<line x1="648.1" y1="199.8" x2="653.6" y2="199.8" stroke="#3a3a3a" stroke-width="1"/>
<text x="0" y="0" transform="translate(668.2,200.4) rotate(-90)" font-size="9" text-anchor="middle" fill="#222222" stroke="#222222" stroke-width="0.08">0.10</text>
<line x1="648.1" y1="169.3" x2="653.6" y2="169.3" stroke="#3a3a3a" stroke-width="1"/>
<text x="0" y="0" transform="translate(668.2,169.9) rotate(-90)" font-size="9" text-anchor="middle" fill="#222222" stroke="#222222" stroke-width="0.08">0.15</text>
<line x1="648.1" y1="138.8" x2="653.6" y2="138.8" stroke="#3a3a3a" stroke-width="1"/>
<text x="0" y="0" transform="translate(668.2,139.4) rotate(-90)" font-size="9" text-anchor="middle" fill="#222222" stroke="#222222" stroke-width="0.08">0.20</text>
<line x1="648.1" y1="108.3" x2="653.6" y2="108.3" stroke="#3a3a3a" stroke-width="1"/>
<text x="0" y="0" transform="translate(668.2,108.89999999999999) rotate(-90)" font-size="9" text-anchor="middle" fill="#222222" stroke="#222222" stroke-width="0.08">0.25</text>
<line x1="648.1" y1="77.8" x2="653.6" y2="77.8" stroke="#3a3a3a" stroke-width="1"/>
<text x="0" y="0" transform="translate(668.2,78.39999999999999) rotate(-90)" font-size="9" text-anchor="middle" fill="#222222" stroke="#222222" stroke-width="0.08">0.30</text>
<line x1="648.1" y1="47.3" x2="653.6" y2="47.3" stroke="#3a3a3a" stroke-width="1"/>
<text x="0" y="0" transform="translate(668.2,47.9) rotate(-90)" font-size="9" text-anchor="middle" fill="#222222" stroke="#222222" stroke-width="0.08">0.35</text>
<line x1="381.4" y1="45.4" x2="394.4" y2="45.4" stroke="#F07070" stroke-width="1"/>
<line x1="381.4" y1="54.2" x2="394.4" y2="54.2" stroke="#444" stroke-width="1" stroke-dasharray="3.2,2.4"/>
<text x="401.4" y="48.9" font-size="7" fill="#222222" stroke="#222222" stroke-width="0.08">Estimation</text>
<text x="401.4" y="56.9" font-size="7" fill="#222222" stroke="#222222" stroke-width="0.08">95% CI</text>
<text x="562" y="49.4" font-size="7.15" fill="#222222" stroke="#222222" stroke-width="0.08">P-overall &lt; 0.001</text>
<text x="562" y="57.9" font-size="7.15" fill="#222222" stroke="#222222" stroke-width="0.08">P-non-linear = 0.238</text>
<text x="381.5" y="14.0" font-size="7.15" fill="#3D4FD6" stroke="#3D4FD6" stroke-width="0.2">&lt;5.60</text>
<text x="381.5" y="22.6" font-size="7.15" fill="#3D4FD6" stroke="#3D4FD6" stroke-width="0.2">HR per SD = 0.91</text>
<text x="381.5" y="31.2" font-size="7.15" fill="#3D4FD6" stroke="#3D4FD6" stroke-width="0.2">(0.80 to 1.03)</text>
<text x="461.6" y="14.0" font-size="7.15" fill="#3D4FD6" stroke="#3D4FD6" stroke-width="0.2">≥5.60</text>
<text x="461.6" y="22.6" font-size="7.15" fill="#3D4FD6" stroke="#3D4FD6" stroke-width="0.2">HR per SD = 1.19</text>
<text x="461.6" y="31.2" font-size="7.15" fill="#3D4FD6" stroke="#3D4FD6" stroke-width="0.2">(1.09 to 1.31)</text>
<text x="404.2" y="206.8" font-size="10.5" fill="#222222" stroke="#222222" stroke-width="0.08">Ref=5.6</text>
<text x="424.3" y="306.3" font-size="10.73" fill="#222222" stroke="#222222" stroke-width="0.08">Fasting blood glucose level (mmol/L)</text>
</g>
<text x="0" y="0" transform="translate(6.1,10.1) scale(0.84,1)" font-family='"Liberation Serif", serif' font-weight="bold" font-size="15" fill="#000">A</text>
<text x="0" y="0" transform="translate(347.7,9.9) scale(0.84,1)" font-family='"Liberation Serif", serif' font-weight="bold" font-size="15.5" fill="#000">B</text>
<text x="0" y="0" transform="translate(9.9,155.4) rotate(-90)" font-family='"Liberation Sans", sans-serif' font-size="11.3" text-anchor="middle" fill="#222222">Hazard Ratio(95% Confidence Interval)</text>
<text x="0" y="0" transform="translate(683.6,152.4) rotate(-90)" font-family='"Liberation Sans", sans-serif' font-size="10.7" text-anchor="middle" fill="#222222">density</text>
</svg>
</body></html>
